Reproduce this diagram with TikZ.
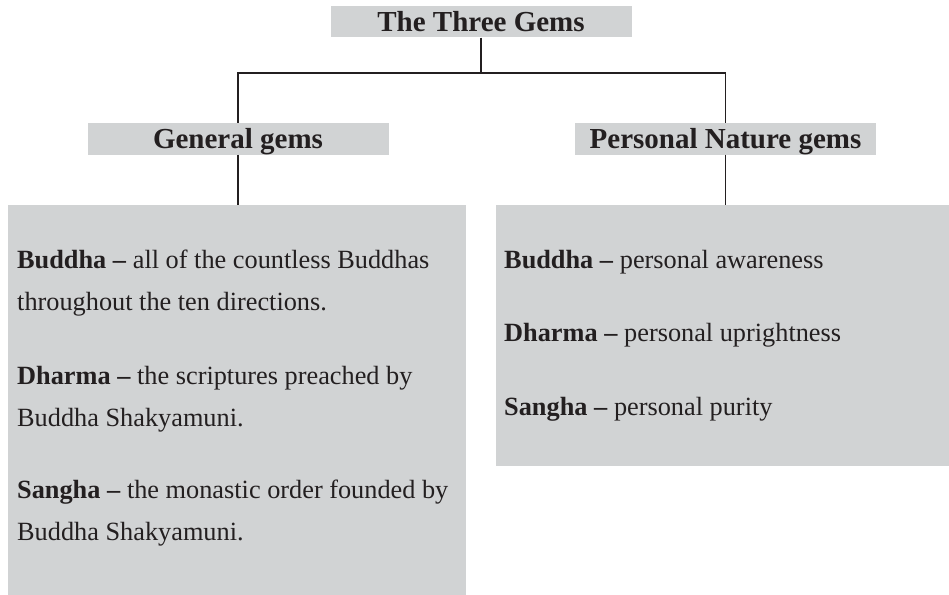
\documentclass[tikz,border=0pt]{standalone}
\usepackage{fontspec}
\setmainfont{Liberation Serif}
\definecolor{boxgray}{HTML}{D1D3D4}
\definecolor{ink}{HTML}{231F20}
\begin{document}
\begin{tikzpicture}[x=1pt,y=-1pt,
  hdr/.style={fill=boxgray, inner sep=0pt, minimum width=301pt, text height=25.5pt, text depth=6pt,
    font=\fontsize{29}{34}\selectfont\bfseries, text=ink},
  bigbox/.style={fill=boxgray, inner sep=0pt, anchor=north west},
  body/.style={anchor=base west, inner sep=0pt, font=\fontsize{26.3}{42}\selectfont, text=ink},
  conn/.style={draw=ink, line width=1.3pt}]
\useasboundingbox (0,0) rectangle (949,594);

% headers
\node[hdr] (title) at (481,21.75) {The Three Gems};
\node[hdr] (gen) at (238,138.75) {General gems};
\node[hdr] (pers) at (725.5,138.75) {Personal Nature gems};

% content boxes
\node[bigbox, minimum width=458pt, minimum height=392pt] (genbox) at (8,205) {};
\node[bigbox, minimum width=453pt, minimum height=261pt] (persbox) at (496,205) {};

% connectors
\coordinate (split) at (481,73);
\draw[conn] (title.south) -- (split);
\draw[conn] (gen.north) -- (gen.north |- split) -- (pers.north |- split) -- (pers.north);
\draw[conn] (gen.south) -- (gen.south |- genbox.north);
\draw[conn] (pers.south) -- (pers.south |- persbox.north);

% left text
\node[body] (l1) at (17,268) {\textbf{Buddha –} all of the countless Buddhas};
\node[body] (l2) at (17,310) {throughout the ten directions.};
\node[body] (l3) at (17,384) {\textbf{Dharma –} the scriptures preached by};
\node[body] (l4) at (17,426) {Buddha Shakyamuni.};
\node[body] (l5) at (17,498) {\textbf{Sangha –} the monastic order founded by};
\node[body] (l6) at (17,540) {Buddha Shakyamuni.};

% right text
\node[body] (r1) at (504,268) {\textbf{Buddha –} personal awareness};
\node[body] (r2) at (504,341.5) {\textbf{Dharma –} personal uprightness};
\node[body] (r3) at (504,415) {\textbf{Sangha –} personal purity};
\end{tikzpicture}
\end{document}
